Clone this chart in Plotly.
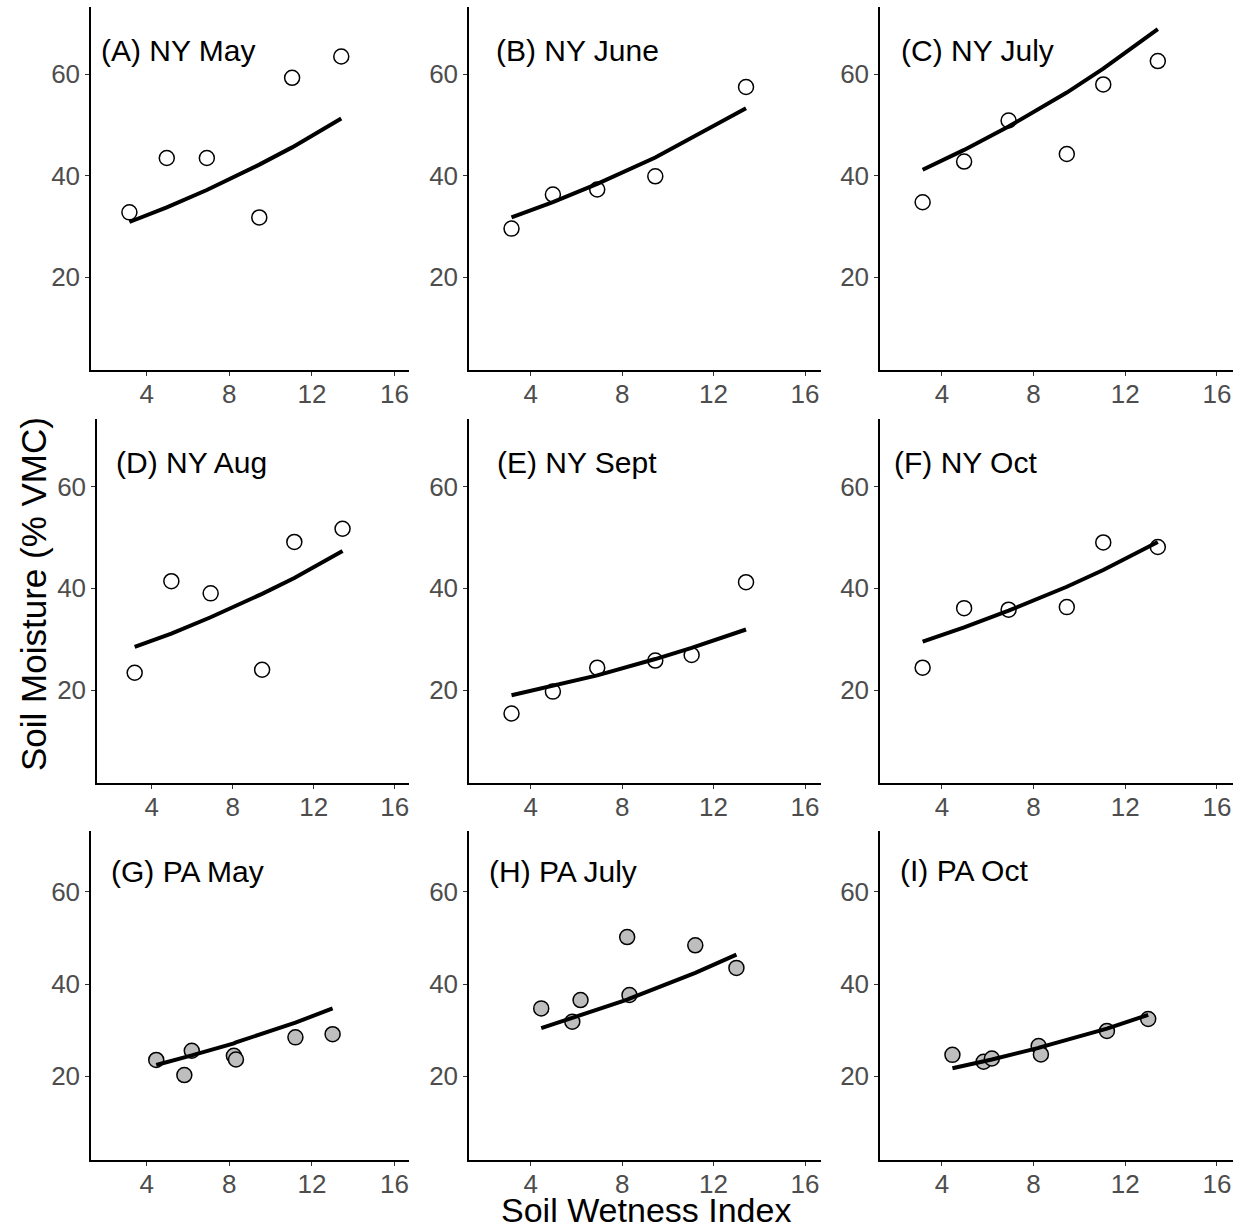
import plotly.graph_objects as go

W, H = 1243, 1230

# ---------------- data ----------------
ny_swi = [3.16, 4.97, 6.91, 9.45, 11.04, 13.42]
pa_swi = [4.46, 5.82, 6.18, 8.22, 8.32, 11.2, 13.0]

panel_labels = ["(A) NY May", "(B) NY June", "(C) NY July",
                "(D) NY Aug", "(E) NY Sept", "(F) NY Oct",
                "(G) PA May", "(H) PA July", "(I) PA Oct"]

# observed soil moisture
A_obs = [32.8, 43.5, 43.5, 31.8, 59.3, 63.5]
B_x = [3.16, 4.97, 6.91, 9.45, 13.42]
B_obs = [29.6, 36.3, 37.3, 39.9, 57.5]
C_obs = [34.8, 42.8, 50.9, 44.3, 58.0, 62.6]
D_obs = [23.4, 41.4, 39.0, 24.0, 49.1, 51.7]
E_obs = [15.4, 19.7, 24.4, 25.8, 26.9, 41.2]
F_obs = [24.4, 36.1, 35.8, 36.3, 49.0, 48.1]
G_obs = [23.5, 20.2, 25.5, 24.4, 23.6, 28.4, 29.1]
H_obs = [34.7, 31.8, 36.5, 50.2, 37.6, 48.4, 43.5]
I_obs = [24.6, 23.1, 23.8, 26.5, 24.7, 29.8, 32.4]

# fitted values (read at each SWI)
A_fit = [30.9, 33.8, 37.2, 42.2, 45.6, 51.3]
B_fit = [31.8, 34.8, 38.4, 43.6, 53.3]
C_fit = [41.2, 45.1, 49.7, 56.4, 61.1, 68.9]
D_fit = [28.5, 31.1, 34.3, 38.9, 42.0, 47.3]
E_fit = [19.0, 20.8, 22.9, 26.1, 28.3, 31.9]
F_fit = [29.5, 32.3, 35.6, 40.3, 43.6, 49.1]
G_fit = [22.4, 24.0, 24.5, 27.1, 27.3, 31.6, 34.7]
H_fit = [30.4, 32.6, 33.1, 36.6, 36.8, 42.4, 46.4]
I_fit = [21.7, 23.2, 23.6, 26.1, 26.3, 30.3, 33.3]

x_ticks = [4, 8, 12, 16]
y_ticks = [20, 40, 60]

panels = [
    (ny_swi, A_obs, ny_swi, A_fit, "open"),
    (B_x, B_obs, B_x, B_fit, "open"),
    (ny_swi, C_obs, ny_swi, C_fit, "open"),
    (ny_swi, D_obs, ny_swi, D_fit, "open"),
    (ny_swi, E_obs, ny_swi, E_fit, "open"),
    (ny_swi, F_obs, ny_swi, F_fit, "open"),
    (pa_swi, G_obs, pa_swi, G_fit, "grey"),
    (pa_swi, H_obs, pa_swi, H_fit, "grey"),
    (pa_swi, I_obs, pa_swi, I_fit, "grey"),
]

# ---------------- layout geometry (pixels) ----------------
col_px = [[(91, 409), (469, 821), (880, 1233)],
          [(97, 409), (469, 821), (880, 1233)],
          [(91, 409), (469, 821), (880, 1233)]]
row_px = [(7, 370), (419, 783), (831, 1160)]
label_pos = [(99, 50), (494, 50), (899, 50),
             (114, 462), (495, 462), (892, 462),
             (109, 871), (487, 871), (898, 870)]

FONT = "Liberation Sans, Arial, Helvetica, sans-serif"

fig = go.Figure()
layout = dict(
    width=W, height=H,
    margin=dict(l=0, r=0, t=0, b=0),
    paper_bgcolor="white", plot_bgcolor="white",
    showlegend=False,
    font=dict(family=FONT),
)

annotations = []
for i, (xo, yo, xf, yf, style) in enumerate(panels):
    r, c = divmod(i, 3)
    k = "" if i == 0 else str(i + 1)
    x0, x1 = col_px[r][c]
    t0, t1 = row_px[r]
    axis_common = dict(
        showline=True, linecolor="black", linewidth=1.5,
        ticks="outside", ticklen=4, tickwidth=1.2, tickcolor="#333333",
        showgrid=False, zeroline=False,
        tickfont=dict(family=FONT, size=26, color="#4D4D4D"),
        fixedrange=True,
    )
    layout["xaxis" + k] = dict(
        axis_common, domain=[x0 / W, x1 / W], range=[1.3, 16.7],
        tickvals=x_ticks, anchor="y" + k, ticklabelstandoff=-4,
    )
    layout["yaxis" + k] = dict(
        axis_common, domain=[1 - t1 / H, 1 - t0 / H], range=[1.75, 73.25],
        tickvals=y_ticks, anchor="x" + k,
    )
    fill = "white" if style == "open" else "#BEBEBE"
    fig.add_trace(go.Scatter(
        x=xo, y=yo, mode="markers", xaxis="x" + k, yaxis="y" + k,
        marker=dict(size=15, color=fill, line=dict(color="black", width=1.5)),
        hoverinfo="skip",
    ))
    fig.add_trace(go.Scatter(
        x=xf, y=yf, mode="lines", xaxis="x" + k, yaxis="y" + k,
        line=dict(color="black", width=4),
        hoverinfo="skip",
    ))
    lx, ly = label_pos[i]
    annotations.append(dict(
        text=panel_labels[i], xref="paper", yref="paper",
        x=lx / W, y=1 - ly / H, xanchor="left", yanchor="middle",
        showarrow=False, font=dict(family=FONT, size=30, color="black"),
    ))

annotations.append(dict(
    text="Soil Moisture (% VMC)", xref="paper", yref="paper",
    x=33 / W, y=1 - 594 / H, xanchor="center", yanchor="middle",
    textangle=-90, showarrow=False,
    font=dict(family=FONT, size=35, color="black"),
))
annotations.append(dict(
    text="Soil Wetness Index", xref="paper", yref="paper",
    x=646 / W, y=0, xanchor="center", yanchor="bottom",
    borderpad=0,
    showarrow=False, font=dict(family=FONT, size=34, color="black"),
))
layout["annotations"] = annotations
fig.update_layout(**layout)

fig.write_html("out.html")
